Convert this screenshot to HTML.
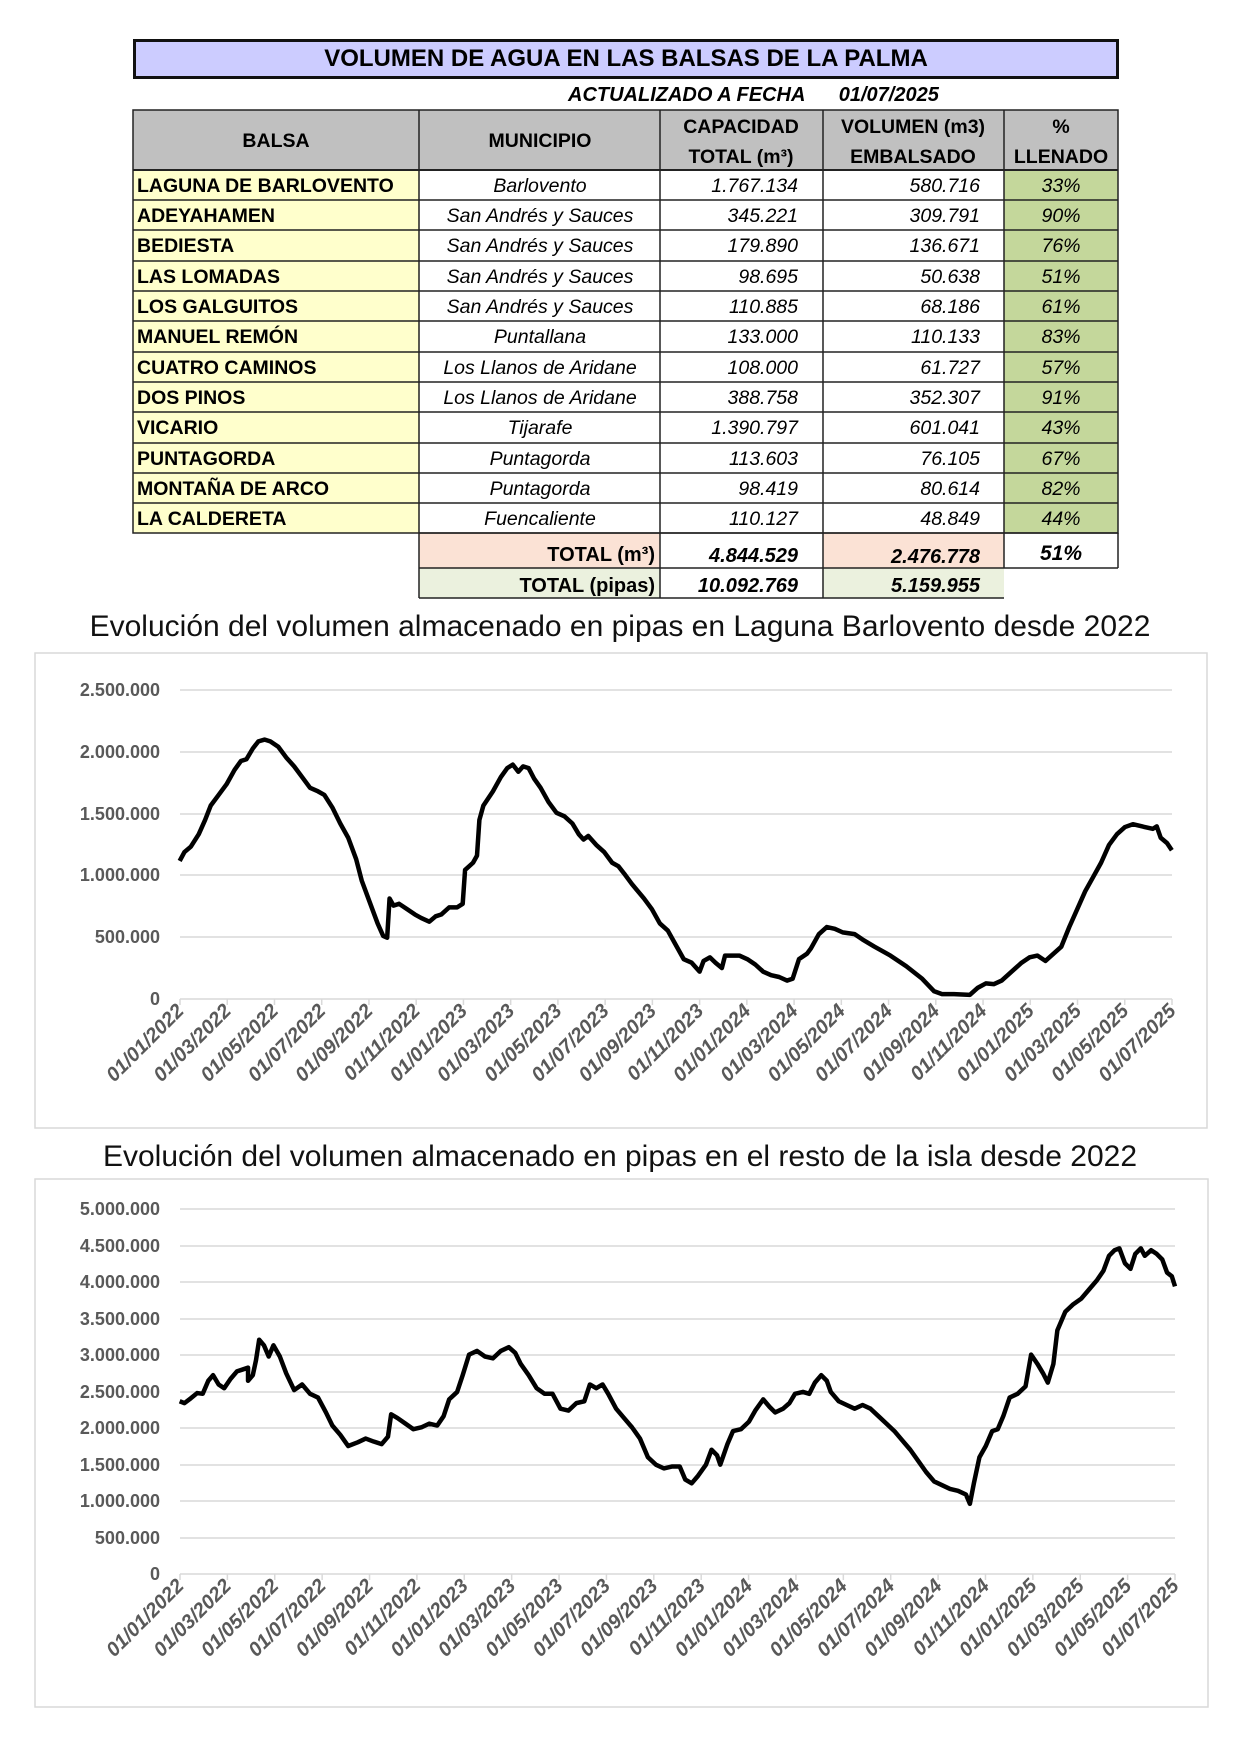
<!DOCTYPE html>
<html><head><meta charset="utf-8"><style>
body{margin:0;width:1240px;height:1755px;background:#fff;position:relative;font-family:"Liberation Sans",Arial,sans-serif;overflow:hidden}
.c{position:absolute;box-sizing:border-box;display:flex;align-items:center;font-size:17px;color:#000;white-space:nowrap}
.t{position:absolute;width:1240px;text-align:center;font-size:30px;color:#111}
</style></head><body>
<div class="c" style="left:133px;top:39px;width:986px;height:40px;background:#ccccff;border:3px solid #111;justify-content:center;font-weight:bold;font-size:24px">VOLUMEN DE AGUA EN LAS BALSAS DE LA PALMA</div>
<div class="c" style="left:568px;top:83px;width:440px;height:24px;font-weight:bold;font-style:italic;font-size:20px">ACTUALIZADO A FECHA&nbsp;&nbsp;&nbsp;&nbsp;&nbsp;&nbsp;01/07/2025</div>
<svg width="1240" height="620" style="position:absolute;left:0;top:0" font-family="Liberation Sans, Arial, sans-serif" font-size="19.5">
<rect x="133" y="110" width="985" height="60" fill="#c0c0c0"/>
<rect x="133" y="170" width="286" height="363" fill="#ffffcc"/>
<rect x="1004" y="170" width="114" height="363" fill="#c4d79b"/>
<rect x="823" y="533" width="181" height="35" fill="#fbe2d5"/>
<rect x="419" y="533" width="241" height="35" fill="#fbe2d5"/>
<rect x="419" y="568" width="241" height="30" fill="#ebf1de"/>
<rect x="823" y="568" width="181" height="30" fill="#ebf1de"/>
<g stroke="#222" stroke-width="1.5" fill="none">
<rect x="133" y="110" width="985" height="423"/>
<line x1="133" y1="170" x2="1118" y2="170" stroke-width="2"/>
<path d="M133 200H1118M133 230H1118M133 261H1118M133 291H1118M133 321H1118M133 352H1118M133 382H1118M133 412H1118M133 443H1118M133 473H1118M133 503H1118"/>
<path d="M419 110V598M660 110V598M823 110V598M1004 110V568M1118 533V568"/>
<path d="M419 533H1118M419 568H1118M419 598H1004"/>
</g>
<g font-weight="bold" text-anchor="middle">
<text x="276" y="147">BALSA</text><text x="540" y="147">MUNICIPIO</text>
<text x="741" y="133">CAPACIDAD</text><text x="741" y="163">TOTAL  (m³)</text>
<text x="913" y="133">VOLUMEN (m3)</text><text x="913" y="163">EMBALSADO</text>
<text x="1061" y="133">%</text><text x="1061" y="163">LLENADO</text>
</g>
<g font-weight="bold">
<text x="137" y="192">LAGUNA DE BARLOVENTO</text><text x="137" y="222">ADEYAHAMEN</text><text x="137" y="252">BEDIESTA</text><text x="137" y="283">LAS LOMADAS</text><text x="137" y="313">LOS GALGUITOS</text><text x="137" y="343">MANUEL REMÓN</text><text x="137" y="374">CUATRO CAMINOS</text><text x="137" y="404">DOS PINOS</text><text x="137" y="434">VICARIO</text><text x="137" y="465">PUNTAGORDA</text><text x="137" y="495">MONTAÑA DE ARCO</text><text x="137" y="525">LA CALDERETA</text>
</g>
<g font-style="italic" text-anchor="middle">
<text x="540" y="192">Barlovento</text><text x="540" y="222">San Andrés y Sauces</text><text x="540" y="252">San Andrés y Sauces</text><text x="540" y="283">San Andrés y Sauces</text><text x="540" y="313">San Andrés y Sauces</text><text x="540" y="343">Puntallana</text><text x="540" y="374">Los Llanos de Aridane</text><text x="540" y="404">Los Llanos de Aridane</text><text x="540" y="434">Tijarafe</text><text x="540" y="465">Puntagorda</text><text x="540" y="495">Puntagorda</text><text x="540" y="525">Fuencaliente</text>
</g>
<g font-style="italic" text-anchor="end">
<text x="798" y="192">1.767.134</text><text x="798" y="222">345.221</text><text x="798" y="252">179.890</text><text x="798" y="283">98.695</text><text x="798" y="313">110.885</text><text x="798" y="343">133.000</text><text x="798" y="374">108.000</text><text x="798" y="404">388.758</text><text x="798" y="434">1.390.797</text><text x="798" y="465">113.603</text><text x="798" y="495">98.419</text><text x="798" y="525">110.127</text>
<text x="980" y="192">580.716</text><text x="980" y="222">309.791</text><text x="980" y="252">136.671</text><text x="980" y="283">50.638</text><text x="980" y="313">68.186</text><text x="980" y="343">110.133</text><text x="980" y="374">61.727</text><text x="980" y="404">352.307</text><text x="980" y="434">601.041</text><text x="980" y="465">76.105</text><text x="980" y="495">80.614</text><text x="980" y="525">48.849</text>
</g>
<g font-style="italic" text-anchor="middle">
<text x="1061" y="192">33%</text><text x="1061" y="222">90%</text><text x="1061" y="252">76%</text><text x="1061" y="283">51%</text><text x="1061" y="313">61%</text><text x="1061" y="343">83%</text><text x="1061" y="374">57%</text><text x="1061" y="404">91%</text><text x="1061" y="434">43%</text><text x="1061" y="465">67%</text><text x="1061" y="495">82%</text><text x="1061" y="525">44%</text>
</g>
<g font-weight="bold" font-size="20">
<text x="655" y="561" text-anchor="end">TOTAL (m³)</text>
<text x="655" y="592" text-anchor="end">TOTAL (pipas)</text>
<g font-style="italic"><text x="798" y="562" text-anchor="end">4.844.529</text><text x="980" y="563" text-anchor="end">2.476.778</text><text x="1061" y="560" text-anchor="middle" font-size="21">51%</text>
<text x="798" y="592" text-anchor="end">10.092.769</text><text x="980" y="592" text-anchor="end">5.159.955</text></g>
</g>
</svg>
<div class="t" style="top:610px">Evolución del volumen almacenado en pipas en Laguna Barlovento desde 2022</div>
<div class="t" style="top:1140px">Evolución del volumen almacenado en pipas en el resto de la isla desde 2022</div>
<svg width="1240" height="1755" style="position:absolute;left:0;top:0" font-family="Liberation Sans, Arial, sans-serif">
<rect x="35" y="653" width="1172" height="475" fill="none" stroke="#d9d9d9" stroke-width="1.5"/>
<rect x="35" y="1179" width="1173" height="528" fill="none" stroke="#d9d9d9" stroke-width="1.5"/>
<g stroke="#d9d9d9" stroke-width="1.5">
<path d="M180 690H1172M180 752H1172M180 814H1172M180 875H1172M180 937H1172"/>
<path d="M180 1209H1175M180 1246H1175M180 1282H1175M180 1319H1175M180 1355H1175M180 1392H1175M180 1428H1175M180 1465H1175M180 1501H1175M180 1538H1175"/>
<path d="M180 999H1172M180 1574H1175"/>
</g>
<g font-size="18" font-weight="bold" fill="#595959" text-anchor="end">
<text x="160" y="696">2.500.000</text><text x="160" y="758">2.000.000</text><text x="160" y="820">1.500.000</text><text x="160" y="881">1.000.000</text><text x="160" y="943">500.000</text><text x="160" y="1005">0</text>
<text x="160" y="1215">5.000.000</text><text x="160" y="1252">4.500.000</text><text x="160" y="1288">4.000.000</text><text x="160" y="1325">3.500.000</text><text x="160" y="1361">3.000.000</text><text x="160" y="1398">2.500.000</text><text x="160" y="1434">2.000.000</text><text x="160" y="1471">1.500.000</text><text x="160" y="1507">1.000.000</text><text x="160" y="1544">500.000</text><text x="160" y="1580">0</text>
</g>
<g id="ticks"></g>
<g transform="translate(0,620) scale(0.795,0.357)">
<path vector-effect="non-scaling-stroke" fill="none" stroke="#000" stroke-width="4.5" stroke-linejoin="round" d="M226,675 232,650 240,635 250,600 258,560 265,520 275,490 285,460 295,420 303,395 310,390 318,360 325,340 333,335 340,340 350,355 360,385 370,410 380,440 390,470 400,480 408,490 418,525 428,570 438,610 448,670 455,730 465,790 475,850 482,885 487,890 490,780 495,800 502,795 512,810 522,825 530,835 540,845 548,830 555,825 565,805 575,805 582,795 585,700 595,680 600,660 603,560 608,520 620,480 630,440 638,415 645,405 652,425 658,410 665,415 672,445 680,470 690,510 700,540 710,550 720,570 728,600 734,615 740,605 750,630 760,650 770,680 778,690 785,710 795,740 810,780 820,810 830,850 840,870 850,910 860,950 870,960 880,985 885,955 893,945 900,960 908,975 912,940 920,940 930,940 940,950 950,965 960,985 970,995 980,1000 990,1010 997,1005 1005,950 1015,935 1020,920 1030,880 1040,860 1050,865 1060,875 1075,880 1085,895 1100,915 1120,940 1140,970 1160,1005 1175,1040 1185,1048 1200,1048 1220,1050 1230,1030 1240,1018 1250,1020 1260,1010 1275,980 1285,960 1295,945 1305,940 1315,955 1325,935 1335,915 1345,860 1355,810 1365,760 1375,720 1385,680 1395,630 1405,600 1415,580 1425,572 1440,580 1450,585 1455,578 1460,610 1468,625 1474,645"/>
</g>
<g transform="translate(0,1170) scale(0.795,0.373)">
<path vector-effect="non-scaling-stroke" fill="none" stroke="#000" stroke-width="4.5" stroke-linejoin="round" d="M226,620 232,625 240,612 248,598 255,600 262,565 268,550 275,575 282,585 290,560 298,540 305,535 312,530 312,565 318,550 322,510 326,455 332,470 338,500 344,470 352,500 360,545 370,590 380,575 390,600 400,610 410,650 418,685 428,710 438,740 450,730 460,720 470,728 480,735 488,715 492,655 500,665 510,680 520,695 530,690 540,680 550,685 558,660 565,615 575,595 582,550 590,495 600,485 610,500 620,505 630,485 640,475 648,490 655,520 665,550 675,585 685,600 695,600 705,640 715,645 725,625 735,620 742,575 750,585 758,575 765,600 775,640 785,665 795,690 805,720 815,770 825,790 835,800 845,795 855,795 862,830 870,840 878,820 888,790 895,750 902,765 906,790 915,735 922,700 932,695 942,675 950,645 960,615 968,635 975,650 985,640 993,625 1000,600 1010,595 1018,600 1025,570 1033,550 1040,565 1045,595 1055,620 1065,630 1075,640 1085,630 1095,640 1105,660 1115,680 1125,700 1135,725 1145,750 1155,780 1165,810 1175,835 1185,845 1195,855 1205,860 1215,870 1220,895 1225,840 1232,770 1240,740 1248,700 1255,695 1262,660 1270,610 1280,600 1290,580 1297,495 1305,520 1312,545 1318,570 1325,520 1330,430 1340,380 1350,360 1360,345 1370,320 1380,295 1388,270 1395,230 1402,215 1408,210 1415,250 1422,265 1428,225 1435,210 1440,230 1448,215 1455,225 1462,240 1468,275 1474,285 1478,312"/>
</g>
</svg>
<script>
(function(){
var g=document.getElementById('ticks'),ns='http://www.w3.org/2000/svg';
var labs=['01/01/2022','01/03/2022','01/05/2022','01/07/2022','01/09/2022','01/11/2022','01/01/2023','01/03/2023','01/05/2023','01/07/2023','01/09/2023','01/11/2023','01/01/2024','01/03/2024','01/05/2024','01/07/2024','01/09/2024','01/11/2024','01/01/2025','01/03/2025','01/05/2025','01/07/2025'];
[[180,1172,999],[180,1175,1574]].forEach(function(c){
 var n=21;
 for(var i=0;i<=n;i++){
  var x=c[0]+(c[1]-c[0])*i/n;
  var l=document.createElementNS(ns,'line');
  l.setAttribute('x1',x);l.setAttribute('x2',x);l.setAttribute('y1',c[2]);l.setAttribute('y2',c[2]+6);
  l.setAttribute('stroke','#d9d9d9');l.setAttribute('stroke-width','1.5');g.appendChild(l);
  var t=document.createElementNS(ns,'text');
  t.setAttribute('x',x+5);t.setAttribute('y',c[2]+13);
  t.setAttribute('text-anchor','end');t.setAttribute('font-size','20');t.setAttribute('font-weight','bold');
  t.setAttribute('font-style','italic');
  t.setAttribute('fill','#595959');t.setAttribute('transform','rotate(-45 '+(x+5)+' '+(c[2]+13)+')');
  t.textContent=labs[i];g.appendChild(t);
 }
});
})();
</script>
</body></html>
